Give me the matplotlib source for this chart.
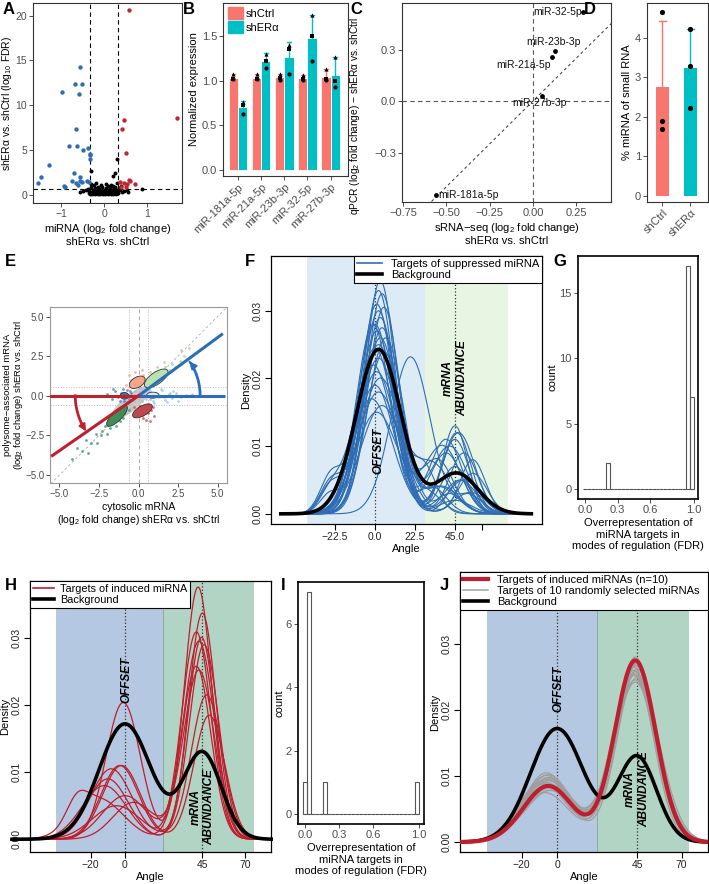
import numpy as np
import matplotlib
matplotlib.use('Agg')
import matplotlib.pyplot as plt
from matplotlib.patches import Ellipse, Patch
from matplotlib.lines import Line2D

plt.rcParams['font.family'] = ['Liberation Sans', 'DejaVu Sans']
plt.rcParams['mathtext.fontset'] = 'custom'
plt.rcParams['mathtext.rm'] = 'Liberation Sans'
plt.rcParams['mathtext.it'] = 'Liberation Sans:italic'

# ---------------- DATA ----------------
# A: volcano
black_x = [-0.55,-0.48,-0.42,-0.38,-0.35,-0.31,-0.28,-0.26,-0.24,-0.22,-0.20,-0.18,-0.16,-0.14,-0.12,-0.10,-0.08,-0.06,-0.04,-0.02,
           0.00,0.02,0.04,0.06,0.08,0.10,0.12,0.14,0.16,0.18,0.20,0.22,0.24,0.26,0.28,0.31,0.34,0.38,0.42,0.47,0.53,
           -0.33,-0.27,-0.21,-0.15,-0.09,-0.03,0.03,0.09,0.15,0.21,0.27,0.33,
           -0.30,-0.19,-0.07,0.05,0.17,0.29,
           -0.30,0.29,0.26,0.20,0.88,0.40,-0.36,0.55]
black_y = [0.35,0.4,0.5,0.7,0.45,0.9,0.3,0.6,1.1,0.4,0.8,0.25,0.55,0.9,0.35,0.7,0.2,0.5,0.85,0.3,
           0.6,0.25,0.75,0.4,0.95,0.3,0.55,0.8,0.25,0.5,1.0,0.35,0.65,0.9,0.3,0.6,0.8,0.5,0.35,0.45,0.6,
           0.15,0.1,0.12,0.08,0.05,0.1,0.06,0.09,0.12,0.07,0.14,0.2,
           1.2,1.3,1.15,1.25,1.1,1.35,
           2.7,4.0,2.5,2.1,0.67,1.0,0.2,0.3]
blue_x = [-0.57,-0.67,-0.52,-0.98,-0.58,-0.64,-0.81,-0.62,-0.50,-0.38,-0.33,-0.33,-0.33,-1.29,-1.46,-1.53,
          -0.69,-0.55,-0.94,-0.90,-0.75,-0.65,-0.57,-0.51,-0.40,-0.36,-0.60]
blue_y = [14.3,12.4,12.4,11.5,11.2,7.3,5.5,5.4,5.0,5.2,4.6,4.4,4.0,3.35,2.0,1.3,
          2.4,2.0,1.0,0.85,1.5,1.3,1.5,1.4,1.6,1.4,1.1]
red_x = [0.57,1.70,0.47,0.41,0.50,0.36,0.46,0.57,0.54,0.72,0.50,0.60,0.40]
red_y = [20.6,8.6,8.3,7.4,4.65,1.45,1.38,1.68,1.19,1.27,0.93,1.6,0.9]

# B: qPCR
mirs = ['miR-181a-5p', 'miR-21a-5p', 'miR-23b-3p', 'miR-32-5p', 'miR-27b-3p']
ctrl_mean = [1.03, 1.03, 1.04, 1.03, 1.04]
er_mean = [0.70, 1.22, 1.26, 1.48, 1.06]
ctrl_top = [1.07, 1.07, 1.07, 1.06, 1.13]
er_top = [0.77, 1.31, 1.43, 1.73, 1.26]
ctrl_pts = [[1.02, 1.02, 1.07], [1.02, 1.02, 1.07], [1.01, 1.03, 1.07], [1.01, 1.02, 1.06], [1.01, 1.02, 1.13]]
er_pts = [[0.63, 0.73, 0.76], [1.14, 1.22, 1.30], [1.07, 1.35, 1.40], [1.22, 1.50, 1.73], [0.93, 1.00, 1.26]]

# C: sRNA-seq vs qPCR
c_names = ['miR-32-5p', 'miR-23b-3p', 'miR-21a-5p', 'miR-27b-3p', 'miR-181a-5p']
c_seq = [0.29, 0.126, 0.11, 0.05, -0.56]
c_qpcr = [0.52, 0.29, 0.255, 0.03, -0.55]

# D: % miRNA
d_groups = ['shCtrl', 'shERα']
d_mean = [2.75, 3.25]
d_top = [4.42, 4.22]
d_pts = [[4.67, 1.91, 1.69], [4.22, 3.30, 2.24]]

# E: cytosolic vs polysome scatter
E_blue_x = [-2.0,-1.7,-1.5,-1.3,-1.1,-0.9,-0.8,-0.7,-0.6,-0.5,-1.6,-1.2,-0.95,-0.75,-0.55,-1.4,-1.0,-0.65]
E_blue_y = [0.1,-0.2,0.3,-0.1,0.2,-0.3,0.1,0.35,-0.2,0.15,0.4,-0.35,0.45,-0.4,0.3,0.0,-0.1,0.05]
E_lblue_x = [0.3,0.5,0.7,0.9,1.1,1.3,1.5,1.7,1.9,2.1,2.4,2.7,3.0,0.6,1.0,1.4,1.8,2.2,0.8,1.2,1.6,2.0,2.5,3.4]
E_lblue_y = [0.1,-0.2,0.3,-0.3,0.2,-0.1,0.35,-0.25,0.1,-0.15,0.2,-0.1,0.05,0.45,-0.45,0.4,-0.4,0.3,0.0,0.05,-0.05,0.15,-0.3,0.1]
E_gup_x = [0.7,0.9,1.1,1.3,1.5,1.7,1.9,2.1,2.3,2.6,2.9,1.0,1.4,1.8,2.2,3.2,2.7,1.6]
E_gup_y = [0.9,1.2,1.0,1.5,1.3,1.8,1.6,2.0,1.8,2.2,2.5,0.8,1.1,1.4,1.6,3.0,2.9,2.1]
E_gdn_x = [-0.6,-0.9,-1.2,-1.5,-1.8,-2.1,-2.4,-2.7,-3.0,-3.3,-3.6,-3.9,-4.2,-1.0,-1.4,-2.0,-2.6,-3.2,-1.7,-2.3]
E_gdn_y = [-0.9,-1.1,-1.6,-1.4,-2.0,-1.9,-2.5,-2.4,-3.0,-2.8,-3.5,-3.3,-4.0,-1.4,-1.9,-2.4,-3.0,-3.6,-1.6,-2.2]
E_sal_x = [-0.8,-0.5,-0.3,-0.1,0.1,0.3,0.5,0.7,-0.6,0.0,0.4,0.9,-0.2,0.2,1.2]
E_sal_y = [0.7,1.0,0.8,1.2,0.9,1.3,1.0,1.5,1.3,0.65,0.7,1.1,1.5,1.6,1.8]
E_red_x = [-0.3,0.0,0.2,0.4,0.6,0.8,1.0,0.1,0.5,0.9,-0.1,0.3,0.7]
E_red_y = [-0.7,-0.9,-1.2,-0.8,-1.1,-0.9,-1.3,-0.65,-1.5,-0.7,-1.1,-1.4,-1.6]
E_gray_x = [-1.2,-0.9,-0.6,-0.3,0.0,0.3,0.6,0.9,-1.0,-0.5,0.2,0.5,-0.2,0.1,-0.8,0.4,-1.5,0.8,-0.4,0.7]
E_gray_y = [-1.0,-0.8,-0.5,-0.3,0.0,0.2,0.4,0.6,-0.5,-0.8,-0.3,0.0,0.3,0.5,-1.1,0.6,-1.3,0.2,-0.1,-0.2]
E_up_end = (5.26, 3.86)
E_dn_end = (-5.45, -3.77)

# F: densities of targets of suppressed miRNAs (per curve: peak height, angle, width of modes)
F_h1 = [0.0345,0.033,0.0325,0.031,0.0305,0.030,0.029,0.028,0.0275,0.027,0.026,0.025,0.0245,0.024,0.023,0.022,0.021,0.020,0.019,0.018,0.017,0.016,0.015,0.0232,0.026,0.028]
F_m1 = [3,2,4,1,5,2,3,0,4,1,3,2,0,5,2,-1,1,3,0,2,-2,4,1,20,6,-1]
F_s1 = [8.5,9,9,9.5,9,9.5,9.5,10,9.5,10,10,10.5,10.5,10,11,11,11,11.5,11,12,12,12,12,11,10,9.5]
F_h2 = [0.003,0.002,0.004,0.005,0.003,0.007,0.003,0.009,0.005,0.011,0.008,0.006,0.012,0.004,0.010,0.013,0.009,0.007,0.011,0.006,0.012,0.008,0.010,0.003,0.005,0.004]
F_m2 = [42,45,36,48,30,45,52,40,50,45,35,55,47,38,42,45,50,33,40,28,46,55,38,55,48,32]
F_s2 = [8,9,10,7,8,8,8,9,9,8,9,8,9,9,10,7,8,10,9,7,8,7,10,8,9,8]
F_h3 = [0,0,0,0,0,0,0.003,0,0,0,0,0.004,0,0,0,0.003,0,0,0.005,0,0,0,0.004,0,0,0]
F_m3 = [-25]*26
F_bg = [(0.0243, 2, 12.5), (0.006, 46, 12)]
G_edges_start, G_binw = -0.0175, 0.035
G_counts = [0,0,0,0,0,0,2] + [0]*20 + [17,7]
# H: induced miRNA targets
H_h1 = [0.0204,0.011,0.0105,0.009,0.0065,0.006,0.0055,0.005,0.011,0.008]
H_m1 = [-1,-3,-8,-10,0,-15,5,-5,-2,-12]
H_s1 = [10,11,12,12,13,14,12,14,11,13]
H_h2 = [0.0376,0.0337,0.0309,0.0301,0.0295,0.0258,0.0252,0.0215,0.0185,0.0290]
H_m2 = [42.5,45,41.5,44.5,43,41.5,43,47.5,49,46]
H_s2 = [8,8,8.5,8,9,8.5,9,9,9,8.5]
H_h3 = [0,0,0,0,0,0.003,0,0,0,0]
H_bg = [(0.0172, 0, 15), (0.0129, 45, 11)]
I_counts = [1,7,0,0,0,1] + [0]*22 + [1]
# J: random miRNA targets
J_h1 = [0.0095,0.0102,0.0088,0.0078,0.0105,0.0092,0.0085,0.0098,0.0075,0.009,0.0082,0.0096,0.0088,0.0079,0.0101,0.0093]
J_m1 = [-6,-5,-7,-4,-6,-8,-3,-5,-7,-6,-4,-5,-8,-3,-6,-5]
J_s1 = [14,13.5,14.5,15,13,14,15,13.5,14.5,14,15,13,14,15,13.5,14]
J_h2 = [0.0268,0.0255,0.0262,0.0245,0.028,0.0252,0.0272,0.0258,0.0265,0.0249,0.0276,0.0260,0.0242,0.0270,0.0254,0.0266]
J_m2 = [44,43,45,44,44,43,45,44,43,45,44,43,44,45,44,43]
J_s2 = [11.5,12,11,12.5,11,12,11.5,12,11,12.5,11.5,12,12.5,11,12,11.5]
J_red = [(0.0085, -5, 14), (0.0275, 44, 11.5)]

# ---------------- FIGURE ----------------
W, HH = 709, 884
fig = plt.figure(figsize=(W/100, HH/100), dpi=100)

def add_ax(l, t, r, b):
    return fig.add_axes([l/W, 1-b/HH, (r-l)/W, (b-t)/HH])

def gg(ax, border='#333333', lw=0.8, size=8):
    for s in ax.spines.values():
        s.set_color(border); s.set_linewidth(lw)
    ax.tick_params(colors='#333333', labelcolor='#4D4D4D', labelsize=size, length=3, width=0.6, pad=1.2)

def rbase(ax):
    for s in ax.spines.values():
        s.set_color('black'); s.set_linewidth(0.9)
    ax.tick_params(colors='black', labelcolor='#222222', labelsize=7.5, length=4, width=0.8, pad=2)

def dens(x, comps):
    y = np.zeros_like(x)
    for h, m, s in comps:
        y += h*np.exp(-0.5*((x-m)/s)**2)
    return y

def plab(x, y, t):
    fig.text(x/W, 1-y/HH, t, fontsize=12, fontweight='bold', va='center', ha='left')

# ---- A ----
axA = add_ax(33, 3, 182, 203)
axA.scatter(black_x, black_y, s=8, c='black', lw=0, zorder=3)
axA.scatter(blue_x, blue_y, s=10, c='#2E6DB4', lw=0, zorder=3)
axA.scatter(red_x, red_y, s=10, c='#C1272D', lw=0, zorder=3)
for xv in (-0.33, 0.33):
    axA.axvline(xv, ls=(0, (4, 3)), c='black', lw=0.8)
axA.axhline(0.7, ls=(0, (4, 3)), c='black', lw=0.8)
axA.set_xlim(-1.65, 1.81); axA.set_ylim(-0.9, 21.4)
axA.set_xticks([-1, 0, 1]); axA.set_xticklabels(['−1', '0', '1'])
axA.set_yticks([0, 5, 10, 15, 20])
axA.set_ylabel('shERα vs. shCtrl (log$_{10}$ FDR)', fontsize=7.5)
axA.set_xlabel('miRNA (log$_2$ fold change)\nshERα vs. shCtrl', fontsize=8, labelpad=2)
gg(axA, size=7.5)
axA.yaxis.set_label_coords(-0.125, 0.5)

# ---- B ----
axB = add_ax(223, 3, 348, 176)
cC, cE = '#F8766D', '#00BFC4'
xs = np.arange(1, 6)
mk = ['o', 's', '^']
for i in range(5):
    for xx, mean, top, pts, col in ((xs[i]-0.2, ctrl_mean[i], ctrl_top[i], ctrl_pts[i], cC),
                                     (xs[i]+0.2, er_mean[i], er_top[i], er_pts[i], cE)):
        axB.bar(xx, mean, width=0.4, color=col, edgecolor='white', lw=0.6, zorder=2)
        axB.plot([xx, xx], [mean, top], color=col, lw=1, zorder=3)
        axB.plot([xx-0.08, xx+0.08], [top, top], color=col, lw=1, zorder=3)
        for k, p in enumerate(pts):
            axB.scatter(xx, p, marker=mk[k], s=9, c='black', lw=0, zorder=4)
axB.set_xlim(0.35, 5.75); axB.set_ylim(-0.067, 1.868)
axB.set_xticks(xs); axB.set_xticklabels(mirs, rotation=45, ha='right', rotation_mode='anchor')
axB.set_yticks([0, 0.5, 1.0, 1.5]); axB.set_yticklabels(['0.0', '0.5', '1.0', '1.5'])
axB.set_ylabel('Normalized expression', fontsize=8, labelpad=2)
axB.legend(handles=[Patch(color=cC, label='shCtrl'), Patch(color=cE, label='shERα')],
           loc='upper left', bbox_to_anchor=(-0.02, 1.02), frameon=False, fontsize=8,
           handlelength=1.3, handleheight=1.3, handletextpad=0.3, labelspacing=0.15, borderpad=0.2)
gg(axB)

# ---- C ----
axC = add_ax(402, 3, 611, 202)
axC.plot([-0.8, 0.5], [-0.8, 0.5], ls=(0, (3, 3)), c='#333333', lw=0.7)
axC.axvline(0, ls=(0, (4, 3)), c='#555555', lw=0.8)
axC.axhline(0, ls=(0, (4, 3)), c='#555555', lw=0.8)
axC.scatter(c_seq, c_qpcr, s=12, c='black', lw=0, zorder=3)
offs = {'miR-32-5p': (-0.01, 0, 'right', 'center'), 'miR-23b-3p': (-0.005, 0.025, 'center', 'bottom'),
        'miR-21a-5p': (-0.01, -0.015, 'right', 'top'), 'miR-27b-3p': (-0.01, -0.012, 'center', 'top'),
        'miR-181a-5p': (0.015, 0, 'left', 'center')}
for n, xv, yv in zip(c_names, c_seq, c_qpcr):
    dx, dy, ha, va = offs[n]
    axC.text(xv+dx, yv+dy, n, fontsize=7.5, ha=ha, va=va, color='#111111')
axC.set_xlim(-0.755, 0.45); axC.set_ylim(-0.588, 0.571)
axC.set_xticks([-0.75, -0.5, -0.25, 0, 0.25]); axC.set_xticklabels(['−0.75', '−0.50', '−0.25', '0.00', '0.25'])
axC.set_yticks([-0.3, 0, 0.3]); axC.set_yticklabels(['−0.3', '0.0', '0.3'])
axC.set_ylabel('qPCR (log$_2$ fold change) − shERα vs. shCtrl', fontsize=7.3, labelpad=2)
axC.set_xlabel('sRNA−seq (log$_2$ fold change)\nshERα vs. shCtrl', fontsize=8, labelpad=2)
gg(axC)
axC.yaxis.set_label_coords(-0.19, 0.43)

# ---- D ----
axD = add_ax(647, 3, 708, 202)
for i, (col, mean, top, pts) in enumerate(zip([cC, cE], d_mean, d_top, d_pts)):
    xx = i+1
    axD.bar(xx, mean, width=0.47, color=col, zorder=2)
    axD.plot([xx, xx], [mean, top], color=col, lw=1, zorder=3)
    axD.plot([xx-0.12, xx+0.12], [top, top], color=col, lw=1, zorder=3)
    axD.scatter([xx]*3, pts, s=14, c='black', lw=0, zorder=4)
axD.set_xlim(0.45, 2.63); axD.set_ylim(-0.152, 4.886)
axD.set_xticks([1, 2]); axD.set_xticklabels(d_groups, rotation=45, ha='right', rotation_mode='anchor')
axD.set_yticks([0, 1, 2, 3, 4])
axD.set_ylabel('% miRNA of small RNA', fontsize=8, labelpad=2)
gg(axD)

# ---- E ----
axE = add_ax(50, 307, 227, 483)
axE.plot([-6, 6], [-6, 6], ls=(0, (3, 3)), c='#AAAAAA', lw=0.6, zorder=1)
axE.axvline(0, ls=(0, (4, 3)), c='#AAAAAA', lw=0.7, zorder=1)
for v in (-0.58, 0.58):
    axE.axvline(v, ls=':', c='#BBBBBB', lw=0.7, zorder=1)
    axE.axhline(v, ls=':', c='#BBBBBB', lw=0.7, zorder=1)
axE.add_patch(Ellipse((-0.5, -0.45), 3.2, 1.0, angle=40, fc='#BDBDBD', ec='none', alpha=0.8, zorder=1.5))
for xs_, ys_, c in ((E_gray_x, E_gray_y, '#BBBBBB'), (E_lblue_x, E_lblue_y, '#A9C9E6'), (E_blue_x, E_blue_y, '#5A84C4'),
                    (E_gup_x, E_gup_y, '#A6D9A0'), (E_gdn_x, E_gdn_y, '#4C9A6C'), (E_sal_x, E_sal_y, '#F4A99A'),
                    (E_red_x, E_red_y, '#D05555')):
    axE.scatter(xs_, ys_, s=4, c=c, lw=0, alpha=0.85, zorder=2)
ell = [((-0.08, 0.85), 1.1, 0.65, 30, '#F4A58C'), ((1.12, 1.10), 1.75, 0.75, 35, '#B8E2B0'),
       ((-0.89, 0.0), 0.55, 0.42, 0, '#4A6FB0'), ((0.91, 0.04), 0.78, 0.38, 0, '#DCEAF6'),
       ((0.25, -0.95), 1.4, 0.62, 30, '#C0464F'), ((-1.36, -1.27), 1.75, 0.62, 45, '#3E8E5A')]
for (cx, cy), w, h, a, fc in ell:
    axE.add_patch(Ellipse((cx, cy), w, h, angle=a, fc=fc, ec='#333333', lw=0.6, zorder=3))
bl, rd = '#2A6EBB', '#C01F2F'
axE.plot([0, 5.47], [0, 0], c=bl, lw=2.2, zorder=4, solid_capstyle='butt')
axE.plot([0, E_up_end[0]], [0, E_up_end[1]], c=bl, lw=2.2, zorder=4)
axE.plot([-5.7, 0], [0, 0], c=rd, lw=2.2, zorder=4, solid_capstyle='butt')
axE.plot([0, E_dn_end[0]], [0, E_dn_end[1]], c=rd, lw=2.2, zorder=4)
t = np.radians(np.linspace(0, 31, 40)); r = 3.9
axE.plot(r*np.cos(t), r*np.sin(t), c=bl, lw=2, zorder=4)
axE.annotate('', xy=(r*np.cos(np.radians(36))-0.05, r*np.sin(np.radians(36))),
             xytext=(r*np.cos(t[-1]), r*np.sin(t[-1])),
             arrowprops=dict(arrowstyle='-|>', color=bl, lw=1.5, mutation_scale=10), zorder=5)
t2 = np.radians(np.linspace(180, 209, 40)); r2 = 4.0
axE.plot(r2*np.cos(t2), r2*np.sin(t2), c=rd, lw=2, zorder=4)
axE.annotate('', xy=(r2*np.cos(np.radians(214)), r2*np.sin(np.radians(214))),
             xytext=(r2*np.cos(t2[-1]), r2*np.sin(t2[-1])),
             arrowprops=dict(arrowstyle='-|>', color=rd, lw=1.5, mutation_scale=10), zorder=5)
axE.set_xlim(-5.6, 5.6); axE.set_ylim(-5.5, 5.6)
axE.set_xticks([-5, -2.5, 0, 2.5, 5]); axE.set_xticklabels(['−5.0', '−2.5', '0.0', '2.5', '5.0'])
axE.set_yticks([-5, -2.5, 0, 2.5, 5]); axE.set_yticklabels(['−5.0', '−2.5', '0.0', '2.5', '5.0'])
axE.set_ylabel('polysome−associated mRNA\n(log$_2$ fold change) shERα vs. shCtrl', fontsize=6.8, linespacing=1.05)
axE.set_xlabel('cytosolic mRNA\n(log$_2$ fold change) shERα vs. shCtrl', fontsize=7.5, labelpad=2, linespacing=1.1)
gg(axE, border='#999999', size=7)
axE.yaxis.set_label_coords(-0.14, 0.5)

# ---- F ----
axF = add_ax(271, 256, 542, 524)
axF.axvspan(-38, 28, color='#DDEBF6', lw=0, zorder=0)
axF.axvspan(28, 75, color='#E9F5E3', lw=0, zorder=0)
for v in (0, 45):
    axF.axvline(v, ls=':', c='#333333', lw=0.9, zorder=1)
xF = np.linspace(-53, 88, 500)
for i in range(len(F_h1)):
    comps = [(F_h1[i], F_m1[i], F_s1[i]), (F_h2[i], F_m2[i], F_s2[i]), (F_h3[i], F_m3[i], 6)]
    axF.plot(xF, dens(xF, comps), c='#2E6DB4', lw=0.8, zorder=2)
axF.plot(xF, dens(xF, F_bg), c='black', lw=2.6, zorder=3)
axF.text(2, 0.0093, 'OFFSET', rotation=90, fontsize=8.5, fontweight='bold', style='italic', ha='center', va='center', zorder=4)
axF.text(45, 0.020, 'mRNA\nABUNDANCE', rotation=90, fontsize=8.5, fontweight='bold', style='italic', ha='center', va='center', zorder=4)
axF.set_xlim(-58.5, 94); axF.set_ylim(-0.0015, 0.0381)
axF.set_xticks([-22.5, 0, 22.5, 45, 60]); axF.set_xticklabels(['−22.5', '0.0', '22.5', '45.0', ''])
axF.set_yticks([0, 0.01, 0.02, 0.03]); axF.set_yticklabels(['0.00', '0.01', '0.02', '0.03'], rotation=90, va='center')
axF.set_xlabel('Angle', fontsize=8, labelpad=1)
axF.set_ylabel('Density', fontsize=8, labelpad=1)
lgF = axF.legend(handles=[Line2D([], [], c='#2E6DB4', lw=1.2), Line2D([], [], c='black', lw=2.6)],
                 labels=['Targets of suppressed miRNA', 'Background'], loc='upper right', fontsize=8,
                 frameon=True, fancybox=False, borderaxespad=0, handlelength=2.3, borderpad=0.25, labelspacing=0.1)
lgF.get_frame().set_edgecolor('black'); lgF.get_frame().set_linewidth(0.8); lgF.get_frame().set_alpha(1)
rbase(axF)

# ---- G ----
def hist_panel(ax, counts):
    edges = G_edges_start + G_binw*np.arange(len(counts))
    ax.bar(edges, counts, width=G_binw, align='edge', fill=False, edgecolor='#555555', lw=0.8)
    ax.set_xticks([0, 0.3, 0.6, 1.0]); ax.set_xticklabels(['0.0', '0.3', '0.6', '1.0'])
    ax.set_ylabel('count', fontsize=8, labelpad=1)
    ax.set_xlabel('Overrepresentation of\nmiRNA targets in\nmodes of regulation (FDR)', fontsize=8, labelpad=2)
    for s in ax.spines.values():
        s.set_color('black'); s.set_linewidth(1.2)
    ax.tick_params(colors='#333333', labelcolor='#4D4D4D', labelsize=8, length=3, width=0.6, pad=1.5)

axG = add_ax(578, 256, 698, 499)
hist_panel(axG, G_counts)
axG.set_xlim(-0.064, 1.037); axG.set_ylim(-0.76, 17.79)
axG.set_yticks([0, 5, 10, 15])

# ---- H ----
axH = add_ax(30, 581, 271, 852)
axH.axvspan(-40, 22.3, color='#B5C8E1', lw=0, zorder=0)
axH.axvspan(22.3, 75, color='#B2D4C4', lw=0, zorder=0)
axH.axvline(22.3, c='#7FA7A0', lw=0.6, zorder=0.5)
for v in (0, 45):
    axH.axvline(v, ls=':', c='#333333', lw=0.9, zorder=1)
xH = np.linspace(-65.7, 85, 500)
for i in range(len(H_h1)):
    comps = [(H_h1[i], H_m1[i], H_s1[i]), (H_h2[i], H_m2[i], H_s2[i]), (H_h3[i], -28, 6)]
    axH.plot(xH, dens(xH, comps), c='#BE1E2D', lw=0.9, zorder=2, clip_on=False)
axH.plot(xH, dens(xH, H_bg), c='black', lw=2.6, zorder=3, clip_on=False)
axH.text(1, 0.0237, 'OFFSET', rotation=90, fontsize=8.5, fontweight='bold', style='italic', ha='center', va='center', zorder=4)
axH.text(45, 0.0048, 'mRNA\nABUNDANCE', rotation=90, fontsize=8.5, fontweight='bold', style='italic', ha='center', va='center', zorder=4)
axH.set_xlim(-55.2, 84.9); axH.set_ylim(-0.0019, 0.0385)
axH.set_xticks([-20, 0, 45, 70]); axH.set_xticklabels(['−20', '0', '45', '70'])
axH.set_yticks([0, 0.01, 0.02, 0.03]); axH.set_yticklabels(['0.00', '0.01', '0.02', '0.03'], rotation=90, va='center')
axH.set_xlabel('Angle', fontsize=8, labelpad=1)
axH.set_ylabel('Density', fontsize=8, labelpad=1)
lgH = axH.legend(handles=[Line2D([], [], c='#BE1E2D', lw=1.2), Line2D([], [], c='black', lw=2.6)],
                 labels=['Targets of induced miRNA', 'Background'], loc='upper left', fontsize=7.8,
                 frameon=True, fancybox=False, borderaxespad=0, handlelength=2.0, handletextpad=0.5,
                 borderpad=0.25, labelspacing=0.1)
lgH.get_frame().set_edgecolor('black'); lgH.get_frame().set_linewidth(0.8); lgH.get_frame().set_alpha(1)
lgH.set_zorder(6)
rbase(axH)

# ---- I ----
axI = add_ax(298, 582, 424, 824)
hist_panel(axI, I_counts)
axI.set_xlim(-0.061, 1.044); axI.set_ylim(-0.315, 7.31)
axI.set_yticks([0, 2, 4, 6])

# ---- J ----
axJ = add_ax(460, 572, 708, 852)
axJ.axvspan(-39.4, 22.5, color='#B5C8E1', lw=0, zorder=0)
axJ.axvspan(22.5, 74.3, color='#B2D4C4', lw=0, zorder=0)
axJ.axvline(22.5, c='#7FA7A0', lw=0.6, zorder=0.5)
for v in (0, 45):
    axJ.axvline(v, ls=':', c='#333333', lw=0.9, zorder=1)
xJ = np.linspace(-55, 85, 500)
for i in range(len(J_h1)):
    comps = [(J_h1[i], J_m1[i], J_s1[i]), (J_h2[i], J_m2[i], J_s2[i])]
    axJ.plot(xJ, dens(xJ, comps), c='#9E9E9E', lw=0.9, zorder=2)
axJ.plot(xJ, dens(xJ, H_bg), c='black', lw=2.6, zorder=3)
axJ.plot(xJ, dens(xJ, J_red), c='#BE1E2D', lw=3, zorder=3.5)
axJ.text(0.5, 0.0232, 'OFFSET', rotation=90, fontsize=8.5, fontweight='bold', style='italic', ha='center', va='center', zorder=4)
axJ.text(45, 0.008, 'mRNA\nABUNDANCE', rotation=90, fontsize=8.5, fontweight='bold', style='italic', ha='center', va='center', zorder=4)
axJ.set_xlim(-54.6, 84.9); axJ.set_ylim(-0.0015, 0.0409)
axJ.set_xticks([-20, 0, 45, 70]); axJ.set_xticklabels(['−20', '0', '45', '70'])
axJ.set_yticks([0, 0.01, 0.02, 0.03]); axJ.set_yticklabels(['0.00', '0.01', '0.02', '0.03'], rotation=90, va='center')
axJ.set_xlabel('Angle', fontsize=8, labelpad=1)
axJ.set_ylabel('Density', fontsize=8, labelpad=1)
lgJ = axJ.legend(handles=[Line2D([], [], c='#BE1E2D', lw=3), Line2D([], [], c='#AAAAAA', lw=1.2),
                          Line2D([], [], c='black', lw=2.6)],
                 labels=['Targets of induced miRNAs (n=10)', 'Targets of 10 randomly selected miRNAs', 'Background'],
                 loc='upper left', bbox_to_anchor=(0, 1, 1, 0), mode='expand', fontsize=8,
                 frameon=True, fancybox=False, borderaxespad=0, handlelength=2.3, borderpad=0.25, labelspacing=0.1)
lgJ.get_frame().set_edgecolor('black'); lgJ.get_frame().set_linewidth(0.8); lgJ.get_frame().set_alpha(1)
rbase(axJ)

# panel labels
for x, y, t in ((3, 10, 'A'), (183, 10, 'B'), (350, 10, 'C'), (584, 10, 'D'), (5, 262, 'E'), (245, 262, 'F'),
                (553, 262, 'G'), (5, 585, 'H'), (281, 585, 'I'), (440, 585, 'J')):
    plab(x, y, t)

fig.savefig('out.png', dpi=100)
